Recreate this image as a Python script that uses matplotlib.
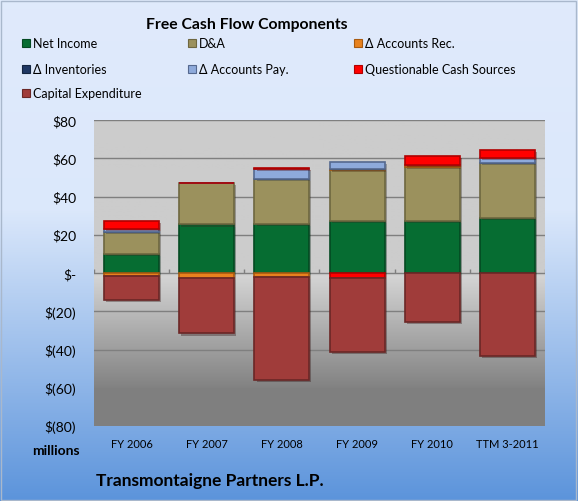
import numpy as np
import matplotlib
matplotlib.use("Agg")
import matplotlib.pyplot as plt
from matplotlib.patches import Rectangle
import matplotlib.patheffects as pe

plt.rcParams['font.family'] = ['Lato', 'DejaVu Sans']

# values in $ millions
years = ["FY 2006", "FY 2007", "FY 2008", "FY 2009", "FY 2010", "TTM 3-2011"]
net_income = [10.0, 25.4, 25.8, 27.2, 27.2, 28.9]
dep_amort = [11.4, 21.8, 23.3, 26.7, 28.4, 28.8]
accts_rec = [-1.6, -2.8, -2.0, 0.6, 0.7, 0.0]
inventories = [0.0, 0.0, 0.0, 0.0, 0.0, 0.0]
accts_pay = [1.4, 0.0, 5.1, 3.5, 0.0, 2.6]
questionable = [4.4, 0.0, 0.9, -2.6, 4.9, 4.0]
capex = [-12.5, -28.8, -53.8, -38.6, -25.8, -43.4]

series = [
    ("Net Income", net_income, "#066d32", "#044a22"),
    ("D&A", dep_amort, "#9b915d", "#6e6740"),
    ("\u0394 Accounts Rec.", accts_rec, "#e8821e", "#a85a10"),
    ("\u0394 Inventories", inventories, "#1f3864", "#142540"),
    ("\u0394 Accounts Pay.", accts_pay, "#8eaadb", "#55698f"),
    ("Questionable Cash Sources", questionable, "#ff0000", "#b00000"),
    ("Capital Expenditure", capex, "#a03c3a", "#6b2726"),
]

yticks = [80, 60, 40, 20, 0, -20, -40, -60, -80]
ytick_labels = ["$80", "$60", "$40", "$20", "$-", "$(20)", "$(40)", "$(60)", "$(80)"]

fig = plt.figure(figsize=(5.78, 5.02), dpi=100)

# figure background gradient
bg = fig.add_axes([0, 0, 1, 1], zorder=-10)
t = np.linspace(0, 1, 256)
stops_t = [0.0, 0.42, 1.0]
stops_c = np.array([[0.878, 0.918, 0.988], [0.86, 0.91, 0.985], [0.36, 0.58, 0.86]])
grad = np.stack([np.interp(t, stops_t, stops_c[:, k]) for k in range(3)], axis=1)
bg.imshow(grad[:, None, :], aspect="auto", extent=[0, 1, 0, 1])
bg.set_axis_off()
fig.add_artist(Rectangle((0.002, 0.002), 0.995, 0.995, transform=fig.transFigure,
                         fill=False, edgecolor="#a9b8cc", lw=1))

ax = fig.add_axes([94 / 578, 1 - 427 / 502, 451 / 578, 306 / 502])
ax.set_xlim(-0.5, len(years) - 0.5)
ax.set_ylim(-80, 80)

# plot area gradient (light gray above zero, darker toward the bottom)
yy = np.linspace(80, -80, 300)
shade = np.interp(yy, [-80, -62, -2, 0, 80], [0.5, 0.5, 0.83, 0.80, 0.80])
ax.imshow(np.repeat(shade[:, None], 3, axis=1)[:, None, :], aspect="auto",
          extent=[-0.5, len(years) - 0.5, -80, 80], zorder=0)

for y in yticks:
    ax.axhline(y, color="#7f7f7f", lw=1, zorder=1)
ax.vlines(np.arange(len(years) + 1) - 0.5, 0, 2.0, color="#7f7f7f", lw=1, zorder=1)

x = np.arange(len(years))
pos = np.zeros(len(years))
neg = np.zeros(len(years))
shadow = [pe.SimplePatchShadow(offset=(1.5, -1.5), alpha=0.35), pe.Normal()]
for name, vals, fc, ec in series:
    vals = np.array(vals)
    bottom = np.where(vals >= 0, pos, neg)
    bars = ax.bar(x, vals, 0.73, bottom=bottom, color=fc, edgecolor=ec, lw=1.2, zorder=3)
    for b in bars:
        b.set_path_effects(shadow)
    pos += np.clip(vals, 0, None)
    neg += np.clip(vals, None, 0)

ax.set_yticks(yticks)
ax.set_yticklabels(ytick_labels, fontsize=10)
ax.set_xticks(x)
ax.set_xticklabels(years, fontsize=8)
ax.tick_params(axis="x", length=0, pad=9)
ax.tick_params(axis="y", length=0, pad=13)
for s in ax.spines.values():
    s.set_visible(False)

fig.text(80 / 578, 1 - 451 / 502, "millions", fontsize=10, fontweight="bold",
         ha="right", va="center")
fig.text(96 / 578, 1 - 481 / 502, "Transmontaigne Partners L.P.", fontsize=12.5,
         fontweight="bold", ha="left", va="center")
fig.text(247 / 578, 1 - 25 / 502, "Free Cash Flow Components", fontsize=11.3,
         fontweight="bold", ha="center", va="center")

# legend, three columns laid out row by row
col_x = [22, 188, 354]
row_y = [44, 70, 94]
for i, (name, vals, fc, ec) in enumerate(series):
    cx = col_x[i % 3]
    cy = row_y[i // 3]
    fig.add_artist(Rectangle((cx / 578, 1 - (cy + 4) / 502), 8 / 578, 8 / 502,
                             transform=fig.transFigure, facecolor=fc, edgecolor=ec, lw=0.8))
    fig.text((cx + 11) / 578, 1 - cy / 502, name, fontsize=9, ha="left", va="center")

fig.savefig("out.png", dpi=100)
